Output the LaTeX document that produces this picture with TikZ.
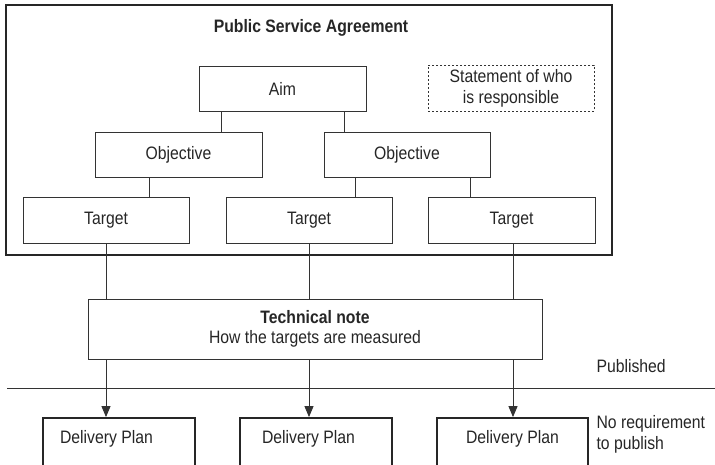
\documentclass[tikz,border=0pt]{standalone}
\usepackage{fontspec}
\setmainfont[FakeStretch=0.875]{Liberation Sans}
\usetikzlibrary{arrows.meta}
\begin{document}
\begin{tikzpicture}[x=1pt,y=-1pt,
  every node/.style={font=\fontsize{18}{21}\selectfont, text=black!85},
  box/.style={draw=black!80, line width=0.9pt, inner sep=0pt, align=center},
  thickbox/.style={draw=black!85, line width=1.8pt, inner sep=0pt},
  conn/.style={draw=black!80, line width=0.9pt},
  arr/.style={conn, -{Triangle[width=9pt,length=11pt]}}]
\useasboundingbox (0,0) rectangle (715,464);
\fill[white] (0,0) rectangle (715,464);
% outer box
\node[thickbox, minimum width=606pt, minimum height=250pt] (psa) at (309,130) {};
\node[font=\fontsize{18}{21}\selectfont\bfseries] (title) at (311,28) {Public Service Agreement};
% hierarchy
\node[box, minimum width=167pt, minimum height=45pt] (aim) at (282.5,88.5) {Aim};
\node[box, dashed, dash pattern=on 2pt off 2pt, minimum width=166pt, minimum height=46pt] (stmt) at (511,88) {Statement of who\\is responsible};
\node[box, minimum width=167pt, minimum height=45pt] (obj1) at (178.5,154.5) {Objective};
\node[box, minimum width=166pt, minimum height=45pt] (obj2) at (407,154.5) {Objective};
\node[box, minimum width=166pt, minimum height=46pt] (t1) at (106,220) {Target};
\node[box, minimum width=166pt, minimum height=46pt] (t2) at (309,220) {Target};
\node[box, minimum width=167pt, minimum height=46pt] (t3) at (511.5,220) {Target};
\draw[conn] ([xshift=-61.5pt]aim.south) -- ([xshift=-61.5pt]aim.south |- obj1.north);
\draw[conn] ([xshift=61.5pt]aim.south) -- ([xshift=61.5pt]aim.south |- obj2.north);
\draw[conn] ([xshift=-29.5pt]obj1.south) -- ([xshift=-29.5pt]obj1.south |- t1.north);
\draw[conn] ([xshift=-52pt]obj2.south) -- ([xshift=-52pt]obj2.south |- t2.north);
\draw[conn] ([xshift=63pt]obj2.south) -- ([xshift=63pt]obj2.south |- t3.north);
% technical note
\node[box, minimum width=454pt, minimum height=60pt] (tn) at (315,329) {};
\node (tnh) at (315,317) {\bfseries Technical note};
\node (tnb) at (315,339) {How the targets are measured};
% published line
\coordinate (pl) at (7,388);
\coordinate (pr) at (715,388);
\draw[conn] (pl) -- (pr);
\node[anchor=west] (pub) at (593,366) {Published};
% delivery plans
\node[thickbox, minimum width=152pt, minimum height=60pt] (d1) at (119,448) {};
\node[thickbox, minimum width=152pt, minimum height=60pt] (d2) at (316,448) {};
\node[thickbox, minimum width=151pt, minimum height=60pt] (d3) at (512.5,448) {};
\node (d1t) at (106.5,439) {Delivery Plan};
\node (d2t) at (308.5,439) {Delivery Plan};
\node (d3t) at (512.5,439) {Delivery Plan};
\node[anchor=north west, align=left] (noreq) at (593,412) {No requirement\\to publish};
% connectors targets -> note -> plans
\draw[conn] (t1.south) -- (t1.south |- tn.north);
\draw[conn] (t2.south) -- (t2.south |- tn.north);
\draw[conn] ([xshift=1.5pt]t3.south) -- ([xshift=1.5pt]t3.south |- tn.north);
\draw[arr] (t1.south |- tn.south) -- (t1.south |- d1.north);
\draw[arr] (t2.south |- tn.south) -- (t2.south |- d2.north);
\draw[arr] ([xshift=1.5pt]t3.south |- tn.south) -- ([xshift=1.5pt]t3.south |- d3.north);
\end{tikzpicture}
\end{document}
